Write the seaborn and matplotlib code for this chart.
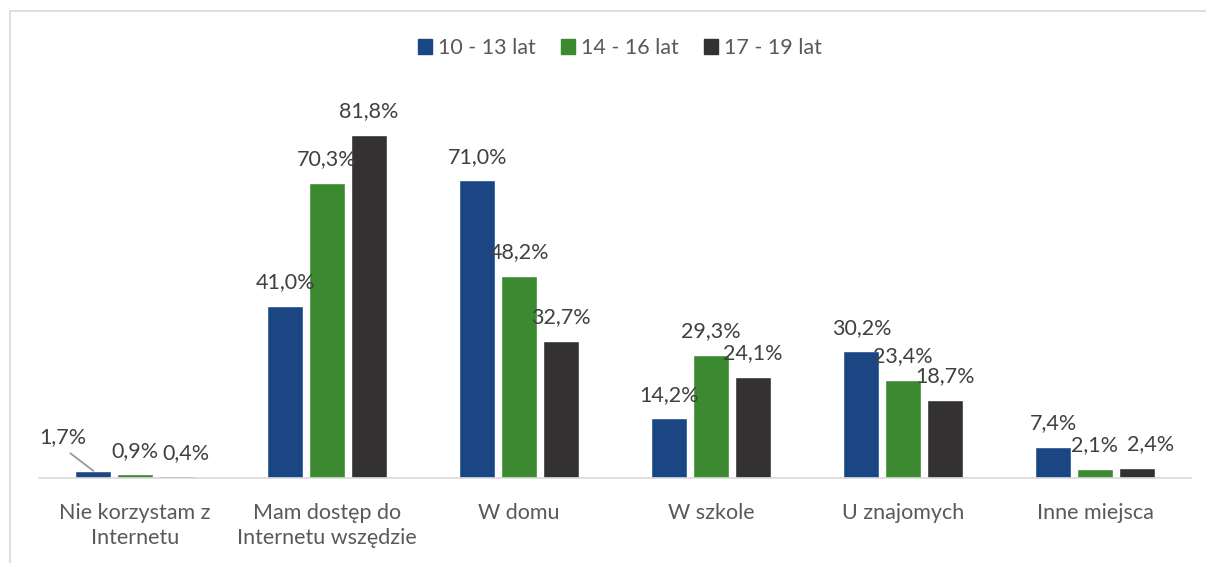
import matplotlib
matplotlib.use("Agg")
import matplotlib.pyplot as plt
import pandas as pd
import seaborn as sns

categories = ["Nie korzystam z\nInternetu", "Mam dostęp do\nInternetu wszędzie",
              "W domu", "W szkole", "U znajomych", "Inne miejsca"]
series = ["10 - 13 lat", "14 - 16 lat", "17 - 19 lat"]
vals_10_13 = [1.7, 41.0, 71.0, 14.2, 30.2, 7.4]
vals_14_16 = [0.9, 70.3, 48.2, 29.3, 23.4, 2.1]
vals_17_19 = [0.4, 81.8, 32.7, 24.1, 18.7, 2.4]

colors = ["#1a4784", "#3b8a30", "#333132"]
text_col = "#595959"

rows = []
for s, vals in zip(series, [vals_10_13, vals_14_16, vals_17_19]):
    for c, v in zip(categories, vals):
        rows.append({"kategoria": c, "grupa": s, "wartosc": v})
df = pd.DataFrame(rows)

sns.set_style("white")
plt.rcParams["font.family"] = ["Lato", "DejaVu Sans"]

fig = plt.figure(figsize=(12.06, 5.63), dpi=100)
ax = fig.add_axes([39 / 1206, 85 / 563, (1191 - 39) / 1206, 390 / 563])

sns.barplot(data=df, x="kategoria", y="wartosc", hue="grupa", palette=colors,
            width=0.65, gap=0.13, ax=ax, legend=False, saturation=1)

ax.set_ylim(0, 93)
ax.set_xlim(-0.5, len(categories) - 0.5)
ax.set_yticks([])
ax.set_xlabel("")
ax.set_ylabel("")
for sp in ["top", "right", "left"]:
    ax.spines[sp].set_visible(False)
ax.spines["bottom"].set_color("#d9d9d9")
ax.spines["bottom"].set_linewidth(1.2)
ax.tick_params(axis="x", length=0, pad=18, labelsize=15.5, labelcolor=text_col)
for t in ax.get_xticklabels():
    t.set_linespacing(1.3)

fsz = 15.5
# data labels (a few nudged like in the original)
nudge = {(0, 0): (-22, 7), (2, 0): (7, 0), (2, 5): (10, 0)}
for si, cont in enumerate(ax.containers):
    for ci, bar in enumerate(cont):
        v = bar.get_height()
        x = bar.get_x() + bar.get_width() / 2
        dx, dy = nudge.get((si, ci), (0, 0))
        label = f"{v:.1f}%".replace(".", ",")
        if (si, ci) == (0, 0):
            ax.annotate(label, xy=(x, v), xytext=(dx, 17 + dy), textcoords="offset points",
                        ha="center", va="center", fontsize=fsz, color="#404040",
                        arrowprops=dict(arrowstyle="-", color="#999999", lw=1.3,
                                        relpos=(0.5, 0), shrinkA=3, shrinkB=0))
        else:
            ax.annotate(label, xy=(x, v), xytext=(dx, 17 + dy), textcoords="offset points",
                        ha="center", va="center", fontsize=fsz, color="#404040")

handles = [plt.Rectangle((0, 0), 1, 1, color=c) for c in colors]
fig.legend(handles, series, loc="center", bbox_to_anchor=(620 / 1206, 1 - 48 / 563),
           ncol=3, frameon=False, fontsize=fsz, labelcolor=text_col,
           handlelength=0.65, handleheight=0.65, handletextpad=0.25, columnspacing=1.2)

# outer chart border
fig.add_artist(plt.Line2D([10 / 1206, 1], [1 - 11 / 563, 1 - 11 / 563],
                          transform=fig.transFigure, color="#d9d9d9", lw=1.2))
fig.add_artist(plt.Line2D([10 / 1206, 10 / 1206], [0, 1 - 11 / 563],
                          transform=fig.transFigure, color="#d9d9d9", lw=1.2))

fig.savefig("out.png", dpi=100)
